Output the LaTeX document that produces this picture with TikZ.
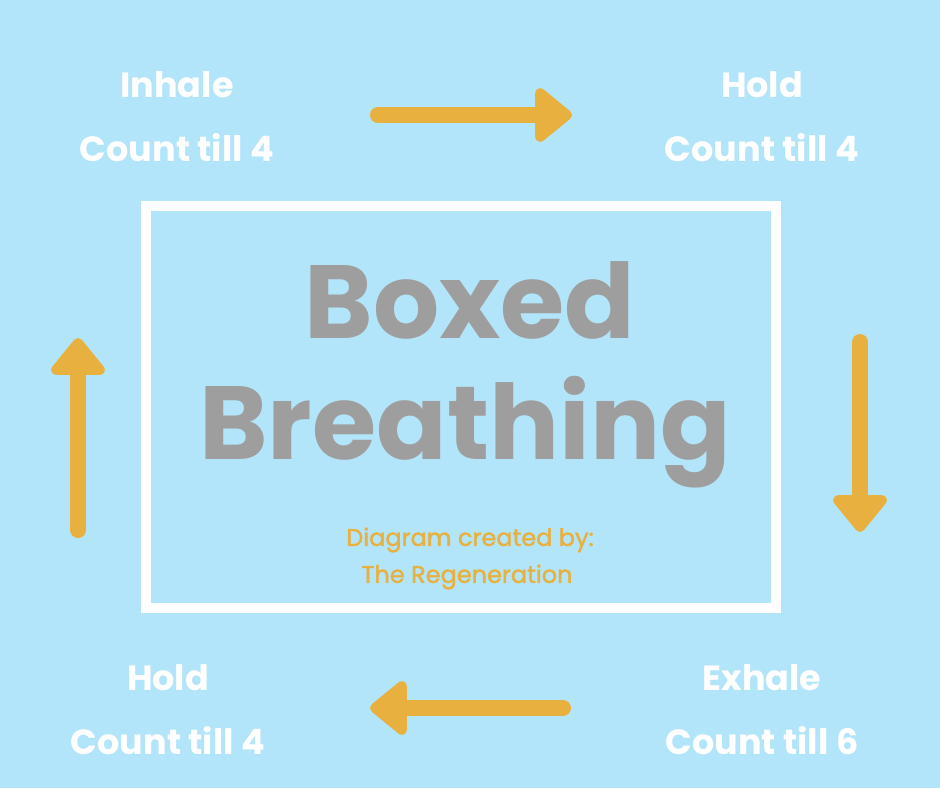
\documentclass[tikz,border=0pt]{standalone}
\usepackage{fontspec}
\setmainfont{Poppins}
\newfontfamily\credfont[FakeBold=1.6]{Poppins}
\usetikzlibrary{arrows.meta}
\definecolor{bg}{HTML}{B3E5FA}
\definecolor{org}{HTML}{E8B13F}
\definecolor{gry}{HTML}{9E9E9E}
\begin{document}
\begin{tikzpicture}[x=1pt,y=-1pt,
  lbl/.style={text=white,font=\fontsize{35}{40}\selectfont\bfseries,align=center},
  arr/.style={org,line width=16pt,line cap=round,-{Triangle[length=40pt,width=62pt,round]}},
  big/.style={text=gry,font=\fontsize{104}{120}\selectfont\bfseries},
  cred/.style={text=org,font=\credfont\fontsize{24}{30}\selectfont}]
\fill[bg] (0,0) rectangle (940,788);
\useasboundingbox (0,0) rectangle (940,788);
\node[draw=white,line width=10pt,minimum width=630pt,minimum height=402pt] (box) at (460.5,406.5) {};
\node[big] (t1) at (470,300) {Boxed};
\node[big] (t2) at (465,432) {Breathing};
\node[cred] (c1) at (470,540) {Diagram created by:};
\node[cred] (c2) at (467,577) {The Regeneration};
\node[lbl] (inh) at (177,85) {Inhale};
\node[lbl] (inh2) at (177,148) {Count till 4};
\node[lbl] (h1) at (762,85) {Hold};
\node[lbl] (h12) at (762,148) {Count till 4};
\node[lbl] (h2) at (168,678) {Hold};
\node[lbl] (h22) at (168,741) {Count till 4};
\node[lbl] (ex) at (762,678) {Exhale};
\node[lbl] (ex2) at (762,741) {Count till 6};
\coordinate (a1) at (378,115); \coordinate (b1) at (572,115);
\coordinate (a2) at (860,342); \coordinate (b2) at (860,532);
\coordinate (a3) at (563,708); \coordinate (b3) at (370,708);
\coordinate (a4) at (78,530); \coordinate (b4) at (78,338);
\draw[arr] (a1) -- (b1);
\draw[arr] (a2) -- (b2);
\draw[arr] (a3) -- (b3);
\draw[arr] (a4) -- (b4);
\end{tikzpicture}
\end{document}
